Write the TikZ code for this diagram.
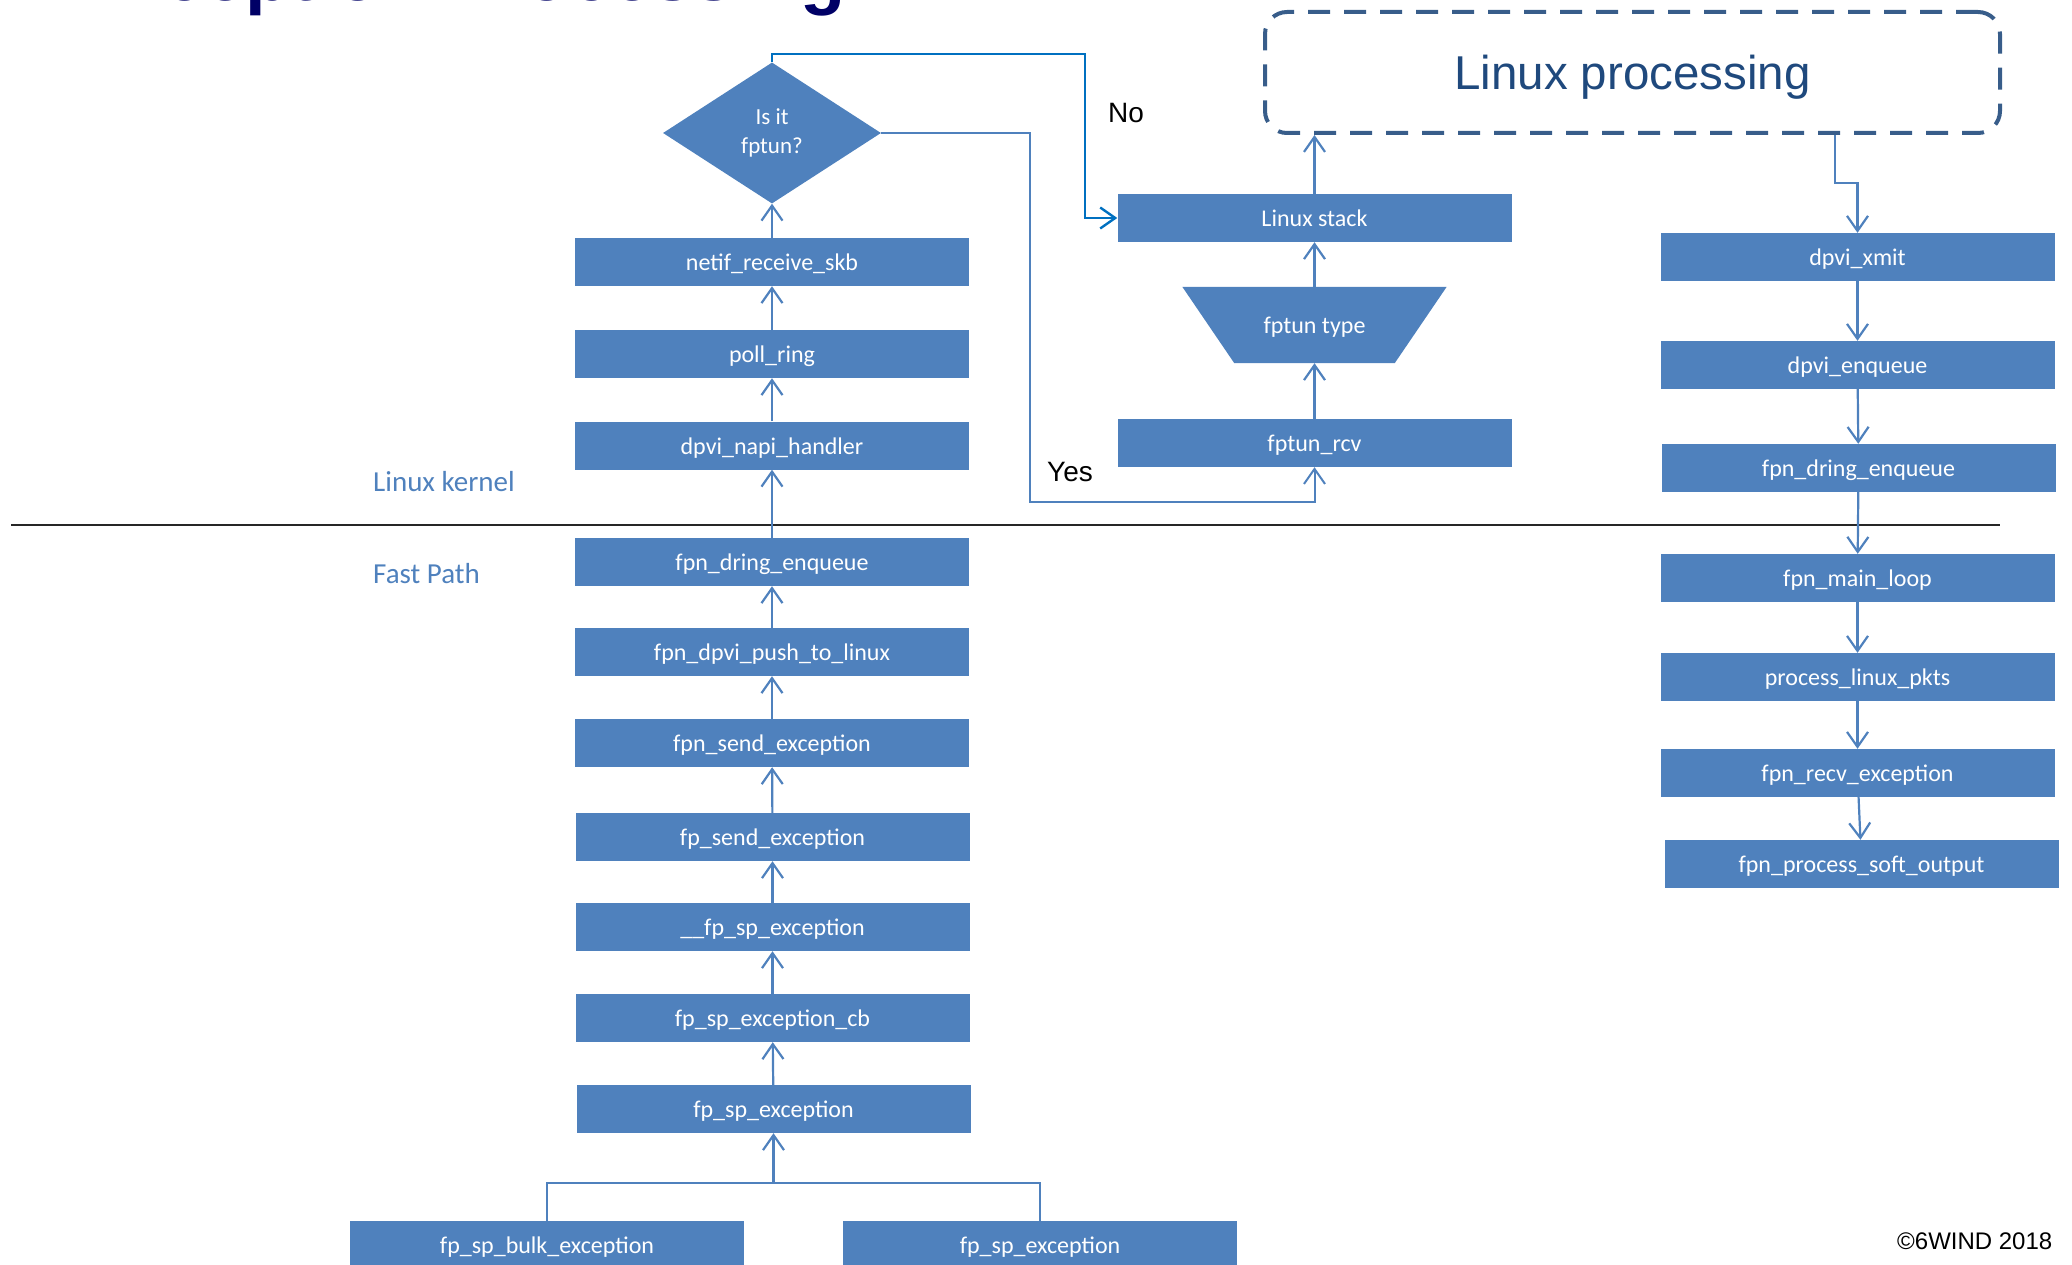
\documentclass[tikz,border=0pt]{standalone}
\usepackage{fontspec}
\setmainfont{Carlito}
\newfontfamily\arialf{Liberation Sans}
\usetikzlibrary{arrows.meta,shapes.geometric,backgrounds}
\definecolor{boxblue}{HTML}{4F81BD}
\definecolor{nocol}{HTML}{0070C0}
\definecolor{dashcol}{HTML}{385D8A}
\definecolor{lptext}{HTML}{1F497D}
\definecolor{titlecol}{HTML}{000066}
\begin{document}
\begin{tikzpicture}[x=1pt,y=-1pt,
  boxfont/.style={font=\fontsize{24}{28}\selectfont, text height=20pt, text depth=2.6pt},
  fbox/.style={rectangle, fill=boxblue, text=white, minimum width=394pt, minimum height=48pt, inner sep=0pt, boxfont},
  conn/.style={draw=boxblue, line width=2.2pt, -{Straight Barb[length=15pt,width=21pt]}},
  noconn/.style={draw=nocol, line width=2.4pt, -{Straight Barb[length=15pt,width=21pt]}},
  yesconn/.style={draw=boxblue, line width=2pt, -{Straight Barb[length=15pt,width=21pt]}},
  plainline/.style={draw=boxblue, line width=2.2pt},
  sidelabel/.style={anchor=base west, inner sep=0pt, text=boxblue, font=\fontsize{29}{34}\selectfont},
  blacklabel/.style={anchor=base west, inner sep=0pt, text=black, font=\arialf\fontsize{28}{32}\selectfont}
]
\useasboundingbox (0,0) rectangle (2072,1265);

% title (cut off at top, as in the reference)
\node[anchor=base east, inner sep=0pt, text=titlecol, font=\arialf\bfseries\fontsize{74}{80}\selectfont] (title) at (846,1) {Exception Processing};

% separator
\coordinate (sepL) at (11,525);
\coordinate (sepR) at (2000,525);
\draw[line width=2pt, black!85] (sepL) -- (sepR);

% labels
\node[sidelabel] (lk) at (373,491) {Linux kernel};
\node[sidelabel] (fpl) at (373,583) {Fast Path};

% left column
\node[diamond, fill=boxblue, text=white, minimum width=218pt, minimum height=141pt, inner sep=0pt, align=center, font=\fontsize{23}{29}\selectfont] (dec) at (772,133) {Is it\\fptun?};
\node[fbox] (netif) at (772,262) {netif\_receive\_skb};
\node[fbox] (poll) at (772,354) {poll\_ring};
\node[fbox] (napi) at (772,445.5) {dpvi\_napi\_handler};
\node[fbox] (dringL) at (772,562) {fpn\_dring\_enqueue};
\node[fbox] (push) at (772,652) {fpn\_dpvi\_push\_to\_linux};
\node[fbox] (fpnsend) at (772,743) {fpn\_send\_exception};
\node[fbox] (fpsend) at (772.5,837) {fp\_send\_exception};
\node[fbox] (uufpsp) at (772.5,927) {\_\_fp\_sp\_exception};
\node[fbox] (fpspcb) at (772.5,1018) {fp\_sp\_exception\_cb};
\node[fbox] (fpsp) at (773.5,1109) {fp\_sp\_exception};
\node[fbox] (bulk) at (547,1245) {fp\_sp\_bulk\_exception};
\node[fbox] (fpsp2) at (1040,1245) {fp\_sp\_exception};

\draw[conn] (netif) -- (dec);
\draw[conn] (poll) -- (netif);
\draw[conn] (napi) -- (poll);
\draw[conn] (dringL) -- (napi);
\draw[conn] (push) -- (dringL);
\draw[conn] (fpnsend) -- (push);
\draw[conn] (fpsend) -- (fpnsend);
\draw[conn] (uufpsp) -- (fpsend);
\draw[conn] (fpspcb) -- (uufpsp);
\draw[conn] (fpsp) -- (fpspcb);

\coordinate (join) at (773.5,1183);
\draw[plainline] (bulk.north) -- (bulk.north |- join) -- (fpsp2.north |- join) -- (fpsp2.north);
\draw[conn] (join) -- (fpsp.south);

% middle column
\node[fbox] (lstack) at (1314.5,218) {Linux stack};
\node[rectangle, minimum width=264pt, minimum height=76pt, inner sep=0pt, text=white, boxfont] (ftype) at (1314.5,325) {fptun type};
\begin{scope}[on background layer]
\fill[boxblue] (ftype.north west) -- (ftype.north east) -- ([xshift=-52pt]ftype.south east) -- ([xshift=52pt]ftype.south west) -- cycle;
\end{scope}
\node[fbox] (fprcv) at (1314.5,443) {fptun\_rcv};

\draw[conn] (fprcv) -- (ftype);
\draw[conn] (ftype) -- (lstack);

% Linux processing box
\node[draw=dashcol, line width=4pt, dash pattern=on 22pt off 14pt, rounded corners=22pt, minimum width=735pt, minimum height=121pt, inner sep=0pt, text=lptext, font=\arialf\fontsize{47.5}{52}\selectfont, text height=37pt, text depth=2pt] (lp) at (1632.5,72.5) {Linux processing};
\draw[conn] (lstack.north) -- (lstack.north |- lp.south);

% decision branches
\coordinate (nox) at (1085,54);
\draw[noconn] (dec.north) |- (nox) |- (lstack.west);
\node[blacklabel] (nolbl) at (1108,123) {No};

\coordinate (yesc) at (1030,502);
\draw[yesconn] (dec.east) -| (yesc) -| (fprcv.south);
\node[blacklabel] (yeslbl) at (1047,481) {Yes};

% right column
\node[fbox] (xmit) at (1857.5,257) {dpvi\_xmit};
\node[fbox] (enq) at (1857.5,365) {dpvi\_enqueue};
\node[fbox] (dringR) at (1858.5,468) {fpn\_dring\_enqueue};
\node[fbox] (mainloop) at (1857.5,578) {fpn\_main\_loop};
\node[fbox] (plp) at (1857.5,677) {process\_linux\_pkts};
\node[fbox] (recv) at (1857.5,773) {fpn\_recv\_exception};
\node[fbox] (soft) at (1861.5,864) {fpn\_process\_soft\_output};

\coordinate (lpbend) at (1835,183);
\draw[conn] (lp.south -| lpbend) -- (lpbend) -| (xmit.north);
\draw[conn] (xmit) -- (enq);
\draw[conn] (enq) -- (dringR);
\draw[conn] (dringR) -- (mainloop);
\draw[conn] (mainloop) -- (plp);
\draw[conn] (plp) -- (recv);
\draw[conn] (recv) -- (soft);

% copyright
\node[anchor=base west, inner sep=0pt, text=black, font=\arialf\fontsize{24}{28}\selectfont] (copy) at (1897,1249) {©6WIND 2018};
\end{tikzpicture}
\end{document}
